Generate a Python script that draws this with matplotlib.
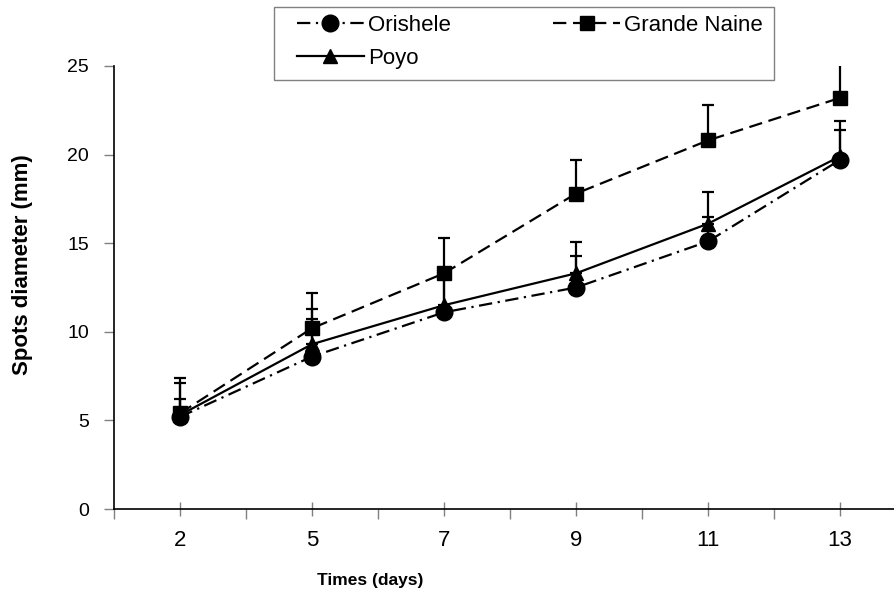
import matplotlib
matplotlib.use("Agg")
import matplotlib.pyplot as plt
from matplotlib.patches import Rectangle
import numpy as np

plt.rcParams['font.family'] = ['Liberation Sans', 'DejaVu Sans']

# days (category axis)
days = ['2', '5', '7', '9', '11', '13']

orishele = [5.2, 8.6, 11.1, 12.5, 15.1, 19.7]
orishele_err = [1.0, 2.1, 1.9, 1.8, 1.4, 1.7]

grande_naine = [5.4, 10.2, 13.3, 17.8, 20.8, 23.2]
grande_naine_err = [2.0, 2.0, 2.0, 1.9, 2.0, 2.4]

poyo = [5.3, 9.3, 11.5, 13.3, 16.1, 19.9]
poyo_err = [1.8, 2.0, 1.7, 1.75, 1.8, 2.0]

x = np.arange(len(days))

fig = plt.figure(figsize=(8.95, 5.94), dpi=100)
ax = fig.add_axes([114/895, 85/594, 792/895, 443/594])

series = [
    (orishele, orishele_err, 'Orishele', 'o', 12, (0, (6, 2.5, 1, 2.5))),
    (grande_naine, grande_naine_err, 'Grande Naine', 's', 10.5, (0, (6, 3))),
    (poyo, poyo_err, 'Poyo', '^', 9.5, '-'),
]

handles = {}
for vals, err, name, mk, ms, ls in series:
    ax.errorbar(x, vals, yerr=[np.zeros(len(vals)), err], fmt='none',
                ecolor='black', elinewidth=1.6, capsize=4.5, capthick=1.6, zorder=2)
    ln, = ax.plot(x, vals, color='black', linestyle=ls, linewidth=1.6,
                  marker=mk, markersize=ms, markerfacecolor='black',
                  markeredgecolor='black', label=name, zorder=3)
    handles[name] = ln

ax.set_xlim(-0.5, 5.5)
ax.set_ylim(0, 25)
ax.set_yticks([0, 5, 10, 15, 20, 25])
ax.set_xticks(x)
ax.set_xticklabels(days)
ax.set_xticks(np.arange(-0.5, 6, 1), minor=True)

for s in ['top', 'right']:
    ax.spines[s].set_visible(False)
ax.spines['left'].set_linewidth(1.2)
ax.spines['bottom'].set_linewidth(1.2)

ax.tick_params(axis='y', direction='out', length=7, width=1, color='#808080',
               labelsize=14, pad=11)
ax.tick_params(axis='x', which='major', direction='inout', length=10, width=1,
               color='#808080', labelsize=16, pad=10)
ax.tick_params(axis='x', which='minor', direction='out', length=7, width=1,
               color='#808080')

ax.set_xlabel('Times (days)', fontsize=12.5, fontweight='bold')
ax.xaxis.set_label_coords(0.323, -0.1445)
ax.set_ylabel('Spots diameter (mm)', fontsize=16, fontweight='bold')
ax.yaxis.set_label_coords(-0.102, 0.551)

# legend box drawn by hand so the padding matches
fig.patches.append(Rectangle((274/895, 1 - 80/594), 500/895, 73/594,
                             transform=fig.transFigure, fill=True,
                             facecolor='white', edgecolor='#808080',
                             linewidth=1.0, zorder=1))

order = ['Orishele', 'Poyo', 'Grande Naine']
leg = fig.legend([handles[n] for n in order], order, ncol=2,
                 loc='upper left', bbox_to_anchor=(297/895, 1 - 15/594),
                 fontsize=16, handlelength=3.0, columnspacing=4.6,
                 labelspacing=0.55, borderpad=0, borderaxespad=0,
                 handletextpad=0.2, frameon=False)

fig.savefig('out.png', dpi=100)
